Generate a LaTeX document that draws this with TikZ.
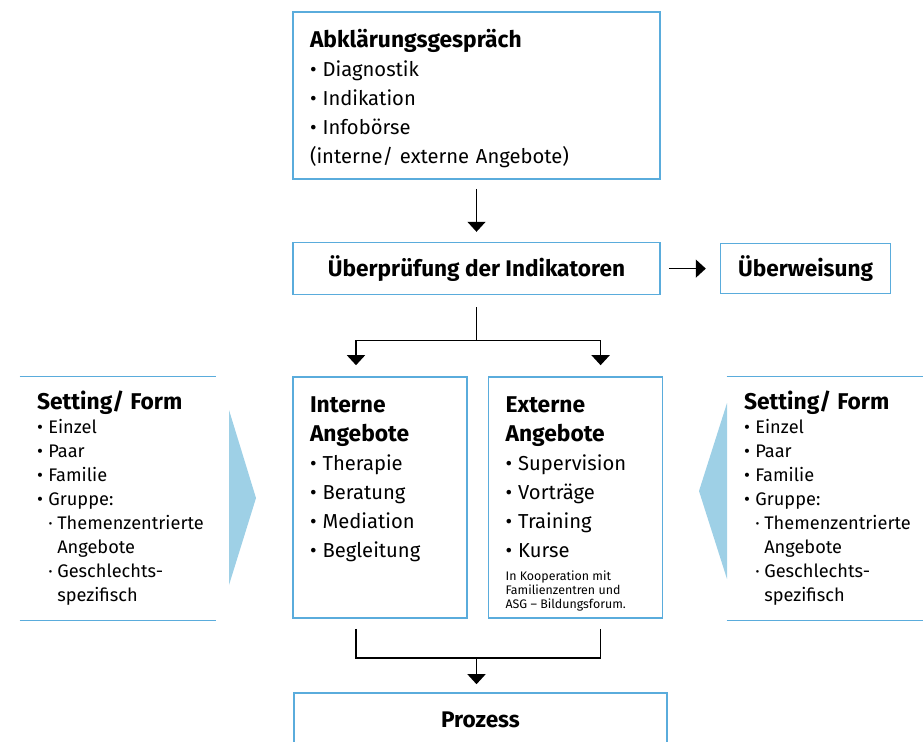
\documentclass[tikz,border=0pt]{standalone}
\usepackage{fontspec}
\setmainfont{Fira Sans}
\usetikzlibrary{arrows.meta, positioning}
\definecolor{lineblue}{RGB}{90,172,220}
\definecolor{wedgeblue}{RGB}{158,208,230}
\newcommand{\bul}{\textbullet\hspace{0.3em}}
\newcommand{\dotitm}{·\hspace{0.25em}}
\newcommand{\subitm}{\phantom{\bul}\dotitm}
\newcommand{\subcont}{\phantom{\bul\dotitm}}
\newcommand{\ttl}{\fontsize{11.4}{14.5}\selectfont\bfseries}
\newcommand{\fine}{\fontsize{6.2}{7}\selectfont\spaceskip=0pt\xspaceskip=0pt}
\tikzset{
  box/.style={rectangle, draw=lineblue, line width=0.8pt, inner sep=0pt,
              text centered, font=\bfseries\fontsize{11.3}{13}\selectfont},
  listbox/.style={box, inner xsep=8.5pt, align=left,
                  font=\fontsize{10.1}{14.5}\selectfont},
  setting/.style={rectangle, inner xsep=8.5pt, inner ysep=0pt, align=left,
                  text width=81pt, minimum height=121.5pt,
                  font=\fontsize{9.1}{12}\selectfont},
  rule/.style={draw=lineblue, line width=0.8pt},
  line/.style={draw=black, line width=0.7pt},
  arrow/.style={line, -{Triangle[width=9pt,length=5pt]}},
  wedge/.style={fill=wedgeblue},
}
\begin{document}
\begin{tikzpicture}[x=0.5pt, y=-0.5pt]
  \useasboundingbox (0,0) rectangle (924,741);

  % top part
  \node[listbox, text width=166.5pt, minimum height=83.5pt, text height=12.5pt] (abkl) at (476.5,95.5)
    {{\ttl Abklärungsgespräch\par}
     \bul Diagnostik\\ \bul Indikation\\ \bul Infobörse\\ (interne/ externe Angebote)};
  \node[box, below=31pt of abkl, minimum width=183.5pt, minimum height=26pt] (pruef) {Überprüfung der Indikatoren};
  \node[box, right=29.5pt of pruef, minimum width=85pt, minimum height=25pt] (ueber) {Überweisung};

  % offers
  \node[listbox, text width=70pt, minimum height=120.5pt, text depth=92.5pt] (intern) at (380,497.5)
    {{\ttl Interne\\ Angebote\par}
     \bul Therapie\\ \bul Beratung\\ \bul Mediation\\ \bul Begleitung};
  \node[listbox, right=10pt of intern, text width=70pt, minimum height=120.5pt, text depth=92.5pt] (extern)
    {{\ttl Externe\\ Angebote\par}
     \bul Supervision\\ \bul Vorträge\\ \bul Training\\ \bul Kurse\par\vspace{4.5pt}
     {\fine In Kooperation mit\\ Familienzentren und\\ ASG – Bildungsforum.\par}};

  % settings
  \node[setting] (setL) at (118,498.5)
    {{\ttl Setting/ Form\par}
     \bul Einzel\\ \bul Paar\\ \bul Familie\\ \bul Gruppe:\\
     \subitm\rlap{Themenzentrierte}\\ \subcont Angebote\\ \subitm Geschlechts-\\ \subcont spezifisch};
  \node[setting] (setR) at (825,498.5)
    {{\ttl Setting/ Form\par}
     \bul Einzel\\ \bul Paar\\ \bul Familie\\ \bul Gruppe:\\
     \subitm\rlap{Themenzentrierte}\\ \subcont Angebote\\ \subitm Geschlechts-\\ \subcont spezifisch};
  \draw[rule] (setL.north west) -- (setL.north east);
  \draw[rule] (setL.south west) -- (setL.south east);
  \draw[rule] (setR.north west) -- (setR.north east);
  \draw[rule] (setR.south west) -- (setR.south east);
  \fill[wedge] (229,410) -- (256,498) -- (229,585) -- cycle;
  \fill[wedge] (727,403) -- (699,491) -- (727,579) -- cycle;

  % bottom
  \node[box, minimum width=186.5pt, minimum height=27pt] (proz) at (480.5,720) {Prozess};

  % connectors
  \coordinate[below=22.5pt of pruef.south] (split);
  \coordinate (join) at ([yshift=-19.5pt]intern.south -| abkl.south);
  \draw[arrow, shorten <=4.5pt, shorten >=5pt] (abkl) -- (pruef);
  \draw[arrow, shorten <=4pt, shorten >=7pt] (pruef.east) -- (pruef.east -| ueber.west);
  \draw[line, shorten <=6pt] (pruef.south) -- (split);
  \draw[arrow] (split) -| ([xshift=-12pt, yshift=5.5pt]intern.north);
  \draw[arrow] (split) -| ([xshift=12.5pt, yshift=5.5pt]extern.north);
  \draw[line] ([xshift=-12pt, yshift=-5pt]intern.south) |- (join);
  \draw[line] ([xshift=12.5pt, yshift=-5pt]extern.south) |- (join);
  \draw[arrow, shorten >=4pt] (join) -- (join |- proz.north);
\end{tikzpicture}
\end{document}
